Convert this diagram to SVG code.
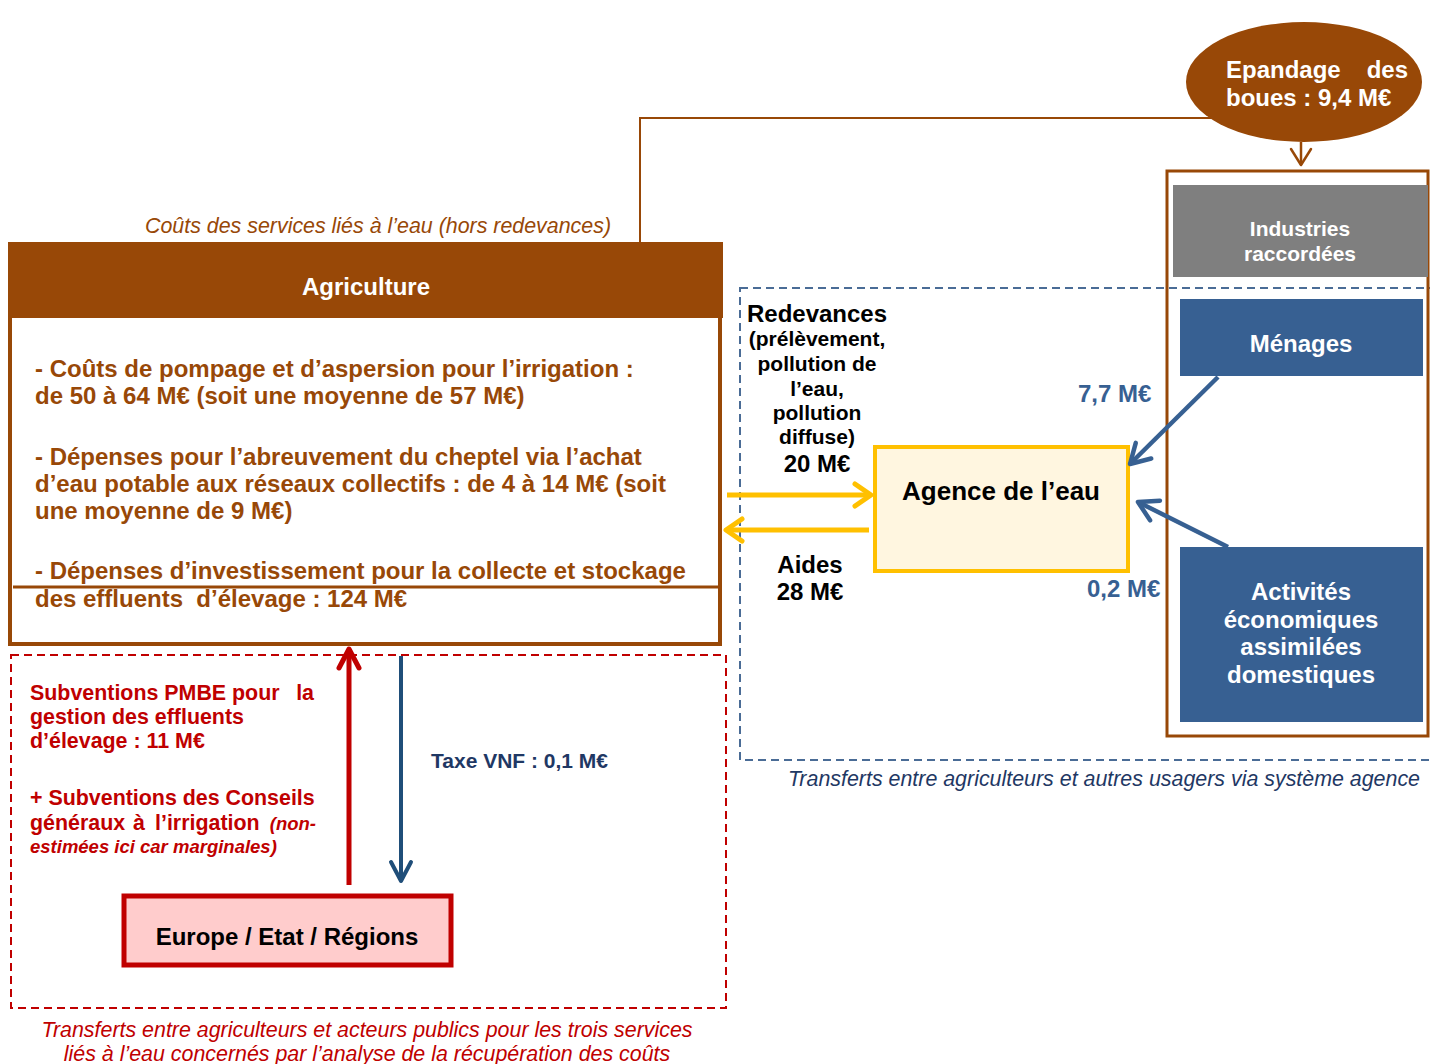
<svg xmlns="http://www.w3.org/2000/svg" width="1430" height="1064" viewBox="0 0 1430 1064">
  <style>
    text { font-family: "Liberation Sans", Arial, sans-serif; }
    .b { font-weight: bold; }
    .it { font-style: italic; }
    .brown { fill: #984807; }
    .white { fill: #ffffff; }
    .red { fill: #c00000; }
    .blue { fill: #376092; }
    .navy { fill: #1f3864; }
    .black { fill: #000000; }
    .mid { text-anchor: middle; }
    .f24 { font-size: 24px; }
    .f21 { font-size: 21px; }
    .cap { font-size: 21.4px; }
  </style>
  <defs>
    <marker id="arrYellow" markerUnits="userSpaceOnUse" viewBox="-22 -16 26 32" markerWidth="26" markerHeight="32" refX="0" refY="0" orient="auto" overflow="visible">
      <path d="M-16,-11 L0,0 L-16,11" fill="none" stroke="#ffc000" stroke-width="5" stroke-linecap="round" stroke-linejoin="round"/>
    </marker>
    <marker id="arrRed" markerUnits="userSpaceOnUse" viewBox="-24 -14 28 28" markerWidth="28" markerHeight="28" refX="0" refY="0" orient="auto" overflow="visible">
      <path d="M-19,-10 L0,0 L-19,10" fill="none" stroke="#c00000" stroke-width="5" stroke-linecap="round" stroke-linejoin="round"/>
    </marker>
    <marker id="arrNavy" markerUnits="userSpaceOnUse" viewBox="-24 -14 28 28" markerWidth="28" markerHeight="28" refX="0" refY="0" orient="auto" overflow="visible">
      <path d="M-19,-10 L0,0 L-19,10" fill="none" stroke="#1f4e79" stroke-width="4" stroke-linecap="round" stroke-linejoin="round"/>
    </marker>
    <marker id="arrBlue" markerUnits="userSpaceOnUse" viewBox="-24 -14 28 28" markerWidth="28" markerHeight="28" refX="0" refY="0" orient="auto" overflow="visible">
      <path d="M-19,-11 L0,0 L-19,11" fill="none" stroke="#376092" stroke-width="4.5" stroke-linecap="round" stroke-linejoin="round"/>
    </marker>
    <marker id="arrBrown" markerUnits="userSpaceOnUse" viewBox="-20 -14 24 28" markerWidth="24" markerHeight="28" refX="0" refY="0" orient="auto" overflow="visible">
      <path d="M-16,-10 L0,0 L-16,10" fill="none" stroke="#984807" stroke-width="2.5" stroke-linecap="round" stroke-linejoin="round"/>
    </marker>
  </defs>

  <rect x="0" y="0" width="1430" height="1064" fill="#ffffff"/>

  <!-- dashed frames for the two transfer areas -->
  <g id="frame-public">
    <rect x="11" y="655" width="715" height="353" fill="none" stroke="#c00000" stroke-width="2" stroke-dasharray="8 5"/>
    <text class="it red mid cap" x="367" y="1037">Transferts entre agriculteurs et acteurs publics pour les trois services</text>
    <text class="it red mid cap" x="367" y="1061">liés à l’eau concernés par l’analyse de la récupération des coûts</text>
  </g>
  <g id="frame-agence">
    <rect x="740" y="288" width="700" height="472" fill="none" stroke="#4a6c96" stroke-width="2" stroke-dasharray="8 5"/>
    <text class="it navy cap" x="1420" y="786" text-anchor="end">Transferts entre agriculteurs et autres usagers via système agence</text>
  </g>

  <!-- Agriculture -->
  <g id="agriculture">
    <text class="it brown mid cap" x="378" y="233">Coûts des services liés à l’eau (hors redevances)</text>
    <rect x="10" y="244" width="710" height="400" fill="#ffffff" stroke="#984807" stroke-width="4"/>
    <rect x="8" y="242" width="715" height="76" fill="#984807"/>
    <text class="b white mid f24" x="366" y="295">Agriculture</text>
    <line x1="13" y1="587" x2="720" y2="587" stroke="#984807" stroke-width="3"/>
    <g class="b brown f24">
      <text x="35" y="377">- Coûts de pompage et d’aspersion pour l’irrigation :</text>
      <text x="35" y="404">de 50 à 64 M€ (soit une moyenne de 57 M€)</text>
      <text x="35" y="465">- Dépenses pour l’abreuvement du cheptel via l’achat</text>
      <text x="35" y="492">d’eau potable aux réseaux collectifs : de 4 à 14 M€ (soit</text>
      <text x="35" y="519">une moyenne de 9 M€)</text>
      <text x="35" y="579">- Dépenses d’investissement pour la collecte et stockage</text>
      <text x="35" y="607" xml:space="preserve">des effluents  d’élevage : 124 M€</text>
    </g>
  </g>

  <!-- Epandage des boues -->
  <g id="epandage">
    <ellipse cx="1304" cy="82" rx="118" ry="60" fill="#984807"/>
    <text class="b white f24" x="1226" y="78">Epandage</text>
    <text class="b white f24" x="1408" y="78" text-anchor="end">des</text>
    <text class="b white f24" x="1226" y="106">boues : 9,4 M€</text>
  </g>

  <!-- Other users -->
  <g id="autres-usagers">
    <rect x="1167" y="171" width="261" height="565" fill="none" stroke="#984807" stroke-width="3"/>
  </g>
  <g id="industries">
    <rect x="1173" y="185" width="255" height="92" fill="#7f7f7f"/>
    <text class="b white mid f21" x="1300" y="236">Industries</text>
    <text class="b white mid f21" x="1300" y="261">raccordées</text>
  </g>
  <g id="menages">
    <rect x="1180" y="299" width="243" height="77" fill="#376092"/>
    <text class="b white mid f24" x="1301" y="352">Ménages</text>
  </g>
  <g id="activites">
    <rect x="1180" y="547" width="243" height="175" fill="#376092"/>
    <text class="b white mid f24" x="1301" y="600">Activités</text>
    <text class="b white mid f24" x="1301" y="628">économiques</text>
    <text class="b white mid f24" x="1301" y="655">assimilées</text>
    <text class="b white mid f24" x="1301" y="683">domestiques</text>
  </g>

  <!-- Agence de l'eau -->
  <g id="agence">
    <rect x="875" y="447" width="253" height="124" fill="#fff6e0" stroke="#ffc000" stroke-width="4"/>
    <text class="b black mid" x="1001" y="500" font-size="26">Agence de l’eau</text>
  </g>

  <!-- Europe / Etat / Regions -->
  <g id="europe">
    <rect x="124" y="896" width="327" height="69" fill="#ffcccc" stroke="#c00000" stroke-width="5"/>
    <text class="b black mid f24" x="287" y="945">Europe / Etat / Régions</text>
  </g>

  <!-- Connectors -->
  <g id="connectors" fill="none">
    <polyline points="640,242 640,118 1215,118" stroke="#984807" stroke-width="2"/>
    <line x1="1301" y1="142" x2="1301" y2="165" stroke="#984807" stroke-width="2.5" marker-end="url(#arrBrown)"/>
    <line x1="727" y1="495" x2="871" y2="495" stroke="#ffc000" stroke-width="5" marker-end="url(#arrYellow)"/>
    <line x1="869" y1="530" x2="726" y2="530" stroke="#ffc000" stroke-width="5" marker-end="url(#arrYellow)"/>
    <line x1="1218" y1="377" x2="1130" y2="464" stroke="#376092" stroke-width="4.5" marker-end="url(#arrBlue)"/>
    <line x1="1228" y1="547" x2="1138" y2="502" stroke="#376092" stroke-width="4.5" marker-end="url(#arrBlue)"/>
    <line x1="349" y1="885" x2="349" y2="649" stroke="#c00000" stroke-width="5" marker-end="url(#arrRed)"/>
    <line x1="401" y1="656" x2="401" y2="881" stroke="#1f4e79" stroke-width="4" marker-end="url(#arrNavy)"/>
  </g>

  <!-- Connector labels -->
  <g id="labels">
    <text class="b black mid f24" x="817" y="322">Redevances</text>
    <text class="b black mid f21" x="817" y="346">(prélèvement,</text>
    <text class="b black mid f21" x="817" y="371">pollution de</text>
    <text class="b black mid f21" x="817" y="396">l’eau,</text>
    <text class="b black mid f21" x="817" y="420">pollution</text>
    <text class="b black mid f21" x="817" y="444">diffuse)</text>
    <text class="b black mid f24" x="817" y="472">20 M€</text>
    <text class="b black mid f24" x="810" y="573">Aides</text>
    <text class="b black mid f24" x="810" y="600">28 M€</text>
    <text class="b blue f24" x="1078" y="402">7,7 M€</text>
    <text class="b blue f24" x="1087" y="597">0,2 M€</text>
    <text class="b navy f21" x="431" y="768">Taxe VNF : 0,1 M€</text>
    <g class="b red cap">
      <text x="30" y="700">Subventions PMBE pour</text>
      <text x="314" y="700" text-anchor="end">la</text>
      <text x="30" y="724">gestion des effluents</text>
      <text x="30" y="748">d’élevage : 11 M€</text>
      <text x="30" y="805">+ Subventions des Conseils</text>
      <text x="30" y="830">généraux</text>
      <text x="133" y="830">à</text>
      <text x="155" y="830">l’irrigation</text>
      <text class="it" x="316" y="830" text-anchor="end" font-size="18.5">(non-</text>
      <text class="it" x="30" y="853" font-size="18.5">estimées ici car marginales)</text>
    </g>
  </g>
</svg>
